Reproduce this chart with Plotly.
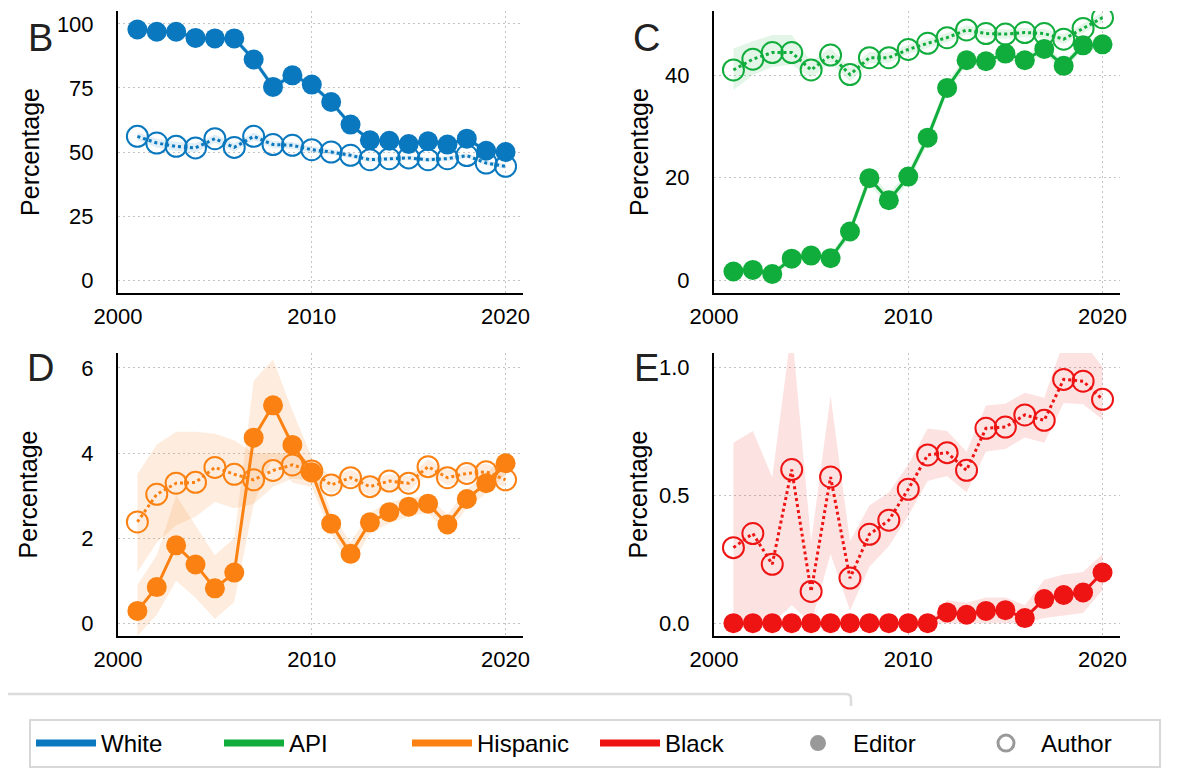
import plotly.graph_objects as go

YEARS = [2001, 2002, 2003, 2004, 2005, 2006, 2007, 2008, 2009, 2010,
         2011, 2012, 2013, 2014, 2015, 2016, 2017, 2018, 2019, 2020]

# Panel B - White
white_editor = [97.8, 96.9, 96.9, 94.5, 94.3, 94.3, 86.1, 75.4, 79.9, 76.3,
                69.5, 60.7, 54.6, 54.4, 53.1, 54.2, 52.9, 55.2, 50.5, 50.0]
white_editor_lo = [96.8, 95.9, 95.9, 93.3, 93.1, 93.1, 84.6, 73.9, 78.4, 75.0,
                   68.3, 59.6, 53.6, 53.4, 52.1, 53.2, 51.9, 54.2, 49.6, 49.1]
white_editor_hi = [98.8, 97.9, 97.9, 95.7, 95.5, 95.5, 87.6, 76.9, 81.4, 77.6,
                   70.7, 61.8, 55.6, 55.4, 54.1, 55.2, 53.9, 56.2, 51.4, 50.9]
white_author = [56.1, 53.5, 52.2, 51.6, 55.2, 51.8, 56.1, 52.9, 52.6, 50.9,
                50.0, 48.7, 47.0, 47.4, 47.7, 47.0, 47.4, 48.6, 45.7, 44.4]
white_author_lo = [54.6, 51.8, 50.4, 49.8, 53.6, 50.2, 54.6, 51.5, 51.3, 49.7,
                   48.9, 47.7, 46.1, 46.5, 46.8, 46.1, 46.5, 47.7, 44.8, 43.5]
white_author_hi = [57.6, 55.2, 54.0, 53.4, 56.8, 53.4, 57.6, 54.3, 53.9, 52.1,
                   51.1, 49.7, 47.9, 48.3, 48.6, 47.9, 48.3, 49.5, 46.6, 45.3]

# Panel C - API
api_editor = [1.7, 2.0, 1.2, 4.2, 4.8, 4.3, 9.5, 19.9, 15.6, 20.2,
              27.8, 37.5, 42.9, 42.7, 44.2, 42.9, 45.1, 41.8, 45.8, 46.0]
api_editor_lo = [1.0, 1.3, 0.6, 3.4, 4.0, 3.5, 8.4, 18.6, 14.4, 19.0,
                 26.6, 36.4, 42.0, 41.8, 43.3, 42.0, 44.2, 40.9, 44.9, 45.1]
api_editor_hi = [2.4, 2.7, 1.8, 5.0, 5.6, 5.1, 10.6, 21.2, 16.8, 21.4,
                 29.0, 38.6, 43.8, 43.6, 45.1, 43.8, 46.0, 42.7, 46.7, 46.9]
api_author = [41.0, 43.1, 44.4, 44.4, 41.0, 43.9, 40.1, 43.4, 43.4, 45.0,
              46.2, 47.3, 48.8, 48.1, 48.0, 48.3, 48.1, 47.0, 49.1, 51.2]
api_author_lo = [37.1, 40.0, 41.6, 42.0, 39.5, 42.4, 38.8, 42.3, 42.4, 44.1,
                 45.3, 46.4, 47.9, 47.2, 47.1, 47.4, 47.2, 46.1, 48.2, 50.2]
api_author_hi = [45.2, 46.6, 47.8, 47.8, 42.6, 45.4, 41.4, 44.5, 44.4, 45.9,
                 47.1, 48.2, 49.7, 49.0, 48.9, 49.2, 49.0, 47.9, 50.0, 52.2]

# Panel D - Hispanic
hisp_editor = [0.29, 0.85, 1.83, 1.38, 0.82, 1.19, 4.36, 5.12, 4.19, 3.55,
               2.34, 1.63, 2.37, 2.61, 2.74, 2.81, 2.32, 2.92, 3.29, 3.76]
hisp_editor_lo = [-0.3, 0.2, 1.0, 0.6, 0.1, 0.5, 2.8, 3.9, 3.3, 3.2,
                  2.1, 1.35, 2.1, 2.35, 2.5, 2.6, 2.1, 2.7, 3.05, 3.5]
hisp_editor_hi = [0.9, 1.6, 3.0, 2.3, 1.6, 2.0, 5.7, 6.2, 5.0, 3.9,
                  2.6, 1.9, 2.6, 2.85, 2.95, 3.0, 2.55, 3.15, 3.5, 4.0]
hisp_author = [2.38, 3.03, 3.29, 3.31, 3.66, 3.50, 3.37, 3.59, 3.72, 3.58,
               3.25, 3.42, 3.21, 3.34, 3.29, 3.68, 3.42, 3.52, 3.56, 3.37]
hisp_author_lo = [1.2, 1.9, 2.3, 2.5, 2.85, 2.7, 2.8, 3.2, 3.4, 3.35,
                  3.05, 3.25, 3.0, 3.15, 3.1, 3.5, 3.25, 3.35, 3.35, 3.2]
hisp_author_hi = [3.5, 4.2, 4.5, 4.5, 4.45, 4.3, 4.0, 4.0, 4.0, 3.8,
                  3.45, 3.6, 3.4, 3.5, 3.45, 3.85, 3.6, 3.7, 3.75, 3.55]

# Panel E - Black
black_editor = [0.0, 0.0, 0.0, 0.0, 0.0, 0.0, 0.0, 0.0, 0.0, 0.0,
                0.0, 0.042, 0.033, 0.048, 0.051, 0.02, 0.094, 0.11, 0.12, 0.198]
black_editor_lo = [0.0, 0.0, 0.0, 0.0, 0.0, 0.0, 0.0, 0.0, 0.0, 0.0,
                   0.0, 0.0, 0.0, 0.0, 0.0, 0.0, 0.02, 0.03, 0.04, 0.13]
black_editor_hi = [0.0, 0.0, 0.0, 0.0, 0.0, 0.0, 0.0, 0.0, 0.0, 0.0,
                   0.0, 0.09, 0.08, 0.1, 0.1, 0.07, 0.17, 0.19, 0.2, 0.27]
black_author = [0.295, 0.35, 0.23, 0.60, 0.124, 0.571, 0.176, 0.347, 0.402, 0.523,
                0.657, 0.666, 0.597, 0.761, 0.766, 0.813, 0.792, 0.952, 0.945, 0.874]
black_author_lo = [0.0, 0.0, 0.0, 0.07, 0.0, 0.27, 0.05, 0.22, 0.30, 0.42,
                   0.555, 0.575, 0.51, 0.67, 0.68, 0.725, 0.705, 0.86, 0.855, 0.795]
black_author_hi = [0.705, 0.75, 0.57, 1.15, 0.32, 0.887, 0.32, 0.46, 0.51, 0.62,
                   0.76, 0.75, 0.67, 0.85, 0.857, 0.90, 0.88, 1.10, 1.10, 1.0]

GROUPS = ["White", "API", "Hispanic", "Black"]
COLORS = ["#0a78be", "#10ad3c", "#fb8212", "#ee1414"]
BAND_RGBA = ["rgba(10,120,190,0.13)", "rgba(16,173,60,0.12)",
             "rgba(251,130,18,0.14)", "rgba(238,20,20,0.12)"]
PANEL_LETTERS = ["B", "C", "D", "E"]
Y_TICKS = [[0, 25, 50, 75, 100], [0, 20, 40], [0, 2, 4, 6], [0.0, 0.5, 1.0]]
Y_RANGES = [[-5, 105], [-2.5, 52.5], [-0.3, 6.35], [-0.05, 1.055]]
X_TICKS = [2000, 2010, 2020]

panels = [
    (white_editor, white_editor_lo, white_editor_hi, white_author, white_author_lo, white_author_hi),
    (api_editor, api_editor_lo, api_editor_hi, api_author, api_author_lo, api_author_hi),
    (hisp_editor, hisp_editor_lo, hisp_editor_hi, hisp_author, hisp_author_lo, hisp_author_hi),
    (black_editor, black_editor_lo, black_editor_hi, black_author, black_author_lo, black_author_hi),
]

W, H = 1200, 779
FONT = "Liberation Sans, Arial, sans-serif"

# pixel geometry of panels (left, right, top, bottom)
geom = [(110, 515, 3, 285), (706, 1112, 3, 285), (110, 515, 345, 628), (706, 1112, 345, 628)]
title_standoff = [10, 9, 37, 4]

fig = go.Figure()
layout = {}
for i, (ed, edlo, edhi, au, aulo, auhi) in enumerate(panels):
    ax = "" if i == 0 else str(i + 1)
    xa, ya = "x" + ax, "y" + ax
    col, band = COLORS[i], BAND_RGBA[i]
    for lo, hi in ((aulo, auhi), (edlo, edhi)):
        fig.add_trace(go.Scatter(x=YEARS, y=lo, mode="lines", line=dict(width=0),
                                 hoverinfo="skip", showlegend=False, xaxis=xa, yaxis=ya))
        fig.add_trace(go.Scatter(x=YEARS, y=hi, mode="lines", line=dict(width=0),
                                 fill="tonexty", fillcolor=band,
                                 hoverinfo="skip", showlegend=False, xaxis=xa, yaxis=ya))
    fig.add_trace(go.Scatter(x=YEARS, y=au, mode="lines+markers",
                             line=dict(color=col, width=3, dash="dot"),
                             marker=dict(symbol="circle-open", size=21, color=col,
                                         line=dict(width=2, color=col)),
                             showlegend=False, xaxis=xa, yaxis=ya))
    fig.add_trace(go.Scatter(x=YEARS, y=ed, mode="lines+markers",
                             line=dict(color=col, width=3),
                             marker=dict(symbol="circle", size=20, color=col),
                             showlegend=False, xaxis=xa, yaxis=ya))
    l, r, t, b = geom[i]
    axis_common = dict(showline=True, linecolor="black", linewidth=2,
                       showgrid=True, gridcolor="#c4c4c4", griddash="2px,3px", gridwidth=1.3,
                       zeroline=False, ticks="", mirror=False, automargin=False,
                       tickfont=dict(family=FONT, size=22, color="black"))
    layout["xaxis" + ax] = dict(axis_common, domain=[l / W, r / W], range=[2000, 2020.9],
                                tickvals=X_TICKS, anchor=ya, ticklabelstandoff=3)
    layout["yaxis" + ax] = dict(axis_common, domain=[1 - b / H, 1 - t / H], range=Y_RANGES[i],
                                tickvals=Y_TICKS[i], anchor=xa, ticklabelstandoff=18,
                                tickformat=".1f" if i == 3 else None,
                                title=dict(text="Percentage", standoff=title_standoff[i],
                                           font=dict(family=FONT, size=25, color="black")))

# legend-only traces
for g, c in zip(GROUPS, COLORS):
    fig.add_trace(go.Scatter(x=[None], y=[None], mode="lines", name=g,
                             line=dict(color=c, width=7), showlegend=True))
fig.add_trace(go.Scatter(x=[None], y=[None], mode="markers", name="Editor",
                         marker=dict(symbol="circle", size=20, color="#999999"), showlegend=True))
fig.add_trace(go.Scatter(x=[None], y=[None], mode="markers", name="Author",
                         marker=dict(symbol="circle-open", size=17, color="#999999",
                                     line=dict(width=3, color="#999999")), showlegend=True))

annotations = []
letter_pos = [(32, 30), (638, 30), (32, 360), (638, 360)]
for letter, (px, py) in zip(PANEL_LETTERS, letter_pos):
    annotations.append(dict(text=letter, x=px / W, y=1 - py / H, xref="paper", yref="paper",
                            showarrow=False, xanchor="center", yanchor="middle",
                            font=dict(family=FONT, size=38, color="#222222")))

# faint clipped box edge above legend (as in the reference)
shapes = [dict(type="path", xref="paper", yref="paper",
               path=f"M 0,{1-686/H} L {838/W},{1-686/H} Q {843/W},{1-686/H} {843/W},{1-691/H} L {843/W},{1-698/H}",
               line=dict(color="#dcdcdc", width=2.5))]

fig.update_layout(
    width=W, height=H,
    margin=dict(l=0, r=0, t=0, b=0, autoexpand=False),
    paper_bgcolor="white", plot_bgcolor="white",
    annotations=annotations, shapes=shapes,
    legend=dict(orientation="h", x=21 / W, y=1 - 711 / H, xanchor="left", yanchor="top",
                bordercolor="#d8d8d8", borderwidth=2, bgcolor="white",
                font=dict(family=FONT, size=24, color="black"),
                entrywidth=113, entrywidthmode="pixels", itemwidth=60,
                traceorder="normal"),
    **layout,
)

fig.write_html("out.html")
